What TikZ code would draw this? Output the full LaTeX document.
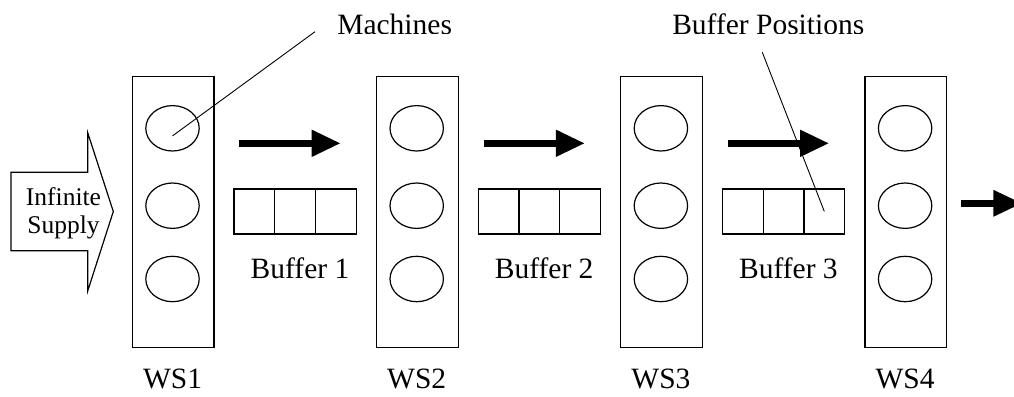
\documentclass[tikz,border=0pt]{standalone}
\usepackage{fontspec}
\setmainfont{Liberation Serif}
\usetikzlibrary{shapes.geometric}
\begin{document}
\begin{tikzpicture}[x=1pt,y=-1pt,
  line width=1.2pt,
  station/.style={draw,rectangle,minimum width=81.6pt,minimum height=270.7pt,inner sep=0pt,anchor=north west},
  machine/.style={draw,ellipse,minimum width=53.4pt,minimum height=45.4pt,inner sep=0pt},
  cell/.style={draw,rectangle,minimum width=40.8pt,minimum height=45pt,inner sep=0pt,anchor=north west},
  lbl/.style={inner sep=0pt,anchor=base,font=\fontsize{29.5}{32}\selectfont},
  flowhead/.style={fill=black,draw=none},
  flowline/.style={line width=6.5pt}]
\useasboundingbox (0,0) rectangle (1014,396);

% Infinite supply arrow
\draw (11,172.3) -- (87.7,172.3) -- (87.7,132.7) -- (113.3,211.5) -- (87.7,291) -- (87.7,250.7) -- (11,250.7) -- cycle;
\node[inner sep=0pt,align=center,anchor=base,font=\fontsize{25.5}{28}\selectfont] (supply) at (63.5,233) {Infinite\\Supply};

% Work stations with three machines each
\foreach \i in {1,...,4}{
  \pgfmathsetmacro{\sx}{131.7+244.2*(\i-1)}
  \node[station] (ws\i) at (\sx,76) {};
  \node[machine] (m\i a) at (\sx+40.8,128.3) {};
  \node[machine] (m\i b) at (\sx+40.8,205.7) {};
  \node[machine] (m\i c) at (\sx+40.8,279) {};
  \node[lbl] (wsl\i) at (\sx+40.8,388) {WS\i};
}

% Buffers between the stations, with flow arrows above
\foreach \i in {1,...,3}{
  \pgfmathsetmacro{\bx}{233.3+244.2*(\i-1)}
  \node[cell] (b\i a) at (\bx,188.3) {};
  \node[cell] (b\i b) at (\bx+40.8,188.3) {};
  \node[cell] (b\i c) at (\bx+81.6,188.3) {};
  \node[lbl] (bl\i) at (\bx+66.7,278) {Buffer \i};
  \draw[flowline] (\bx+6,143.3) -- (\bx+80,143.3);
  \fill[flowhead] (\bx+78.4,129.6) -- (\bx+106.7,143.3) -- (\bx+78.4,157) -- cycle;
}

% Output arrow leaving the last station
\begin{scope}
  \clip (0,0) rectangle (1014,396);
  \draw[flowline] (961,203.3) -- (995,203.3);
  \fill[flowhead] (993.3,189.8) -- (1021.6,203.3) -- (993.3,216.8) -- cycle;
\end{scope}

% Callout labels (cut off at the top edge)
\begin{scope}
  \clip (0,0) rectangle (1014,33.5);
  \node[lbl,anchor=base west] (machines) at (336.7,34.5) {Machines};
  \node[lbl,anchor=base west] (positions) at (671.7,34.5) {Buffer Positions};
\end{scope}
\coordinate (mfoot) at (315,31.7);
\coordinate (pfoot) at (762.3,52.3);
\draw[line width=0.9pt] (mfoot) -- ([yshift=-7.6pt]m1a.center);
\draw[line width=0.9pt] (pfoot) -- (b3c.center);
\end{tikzpicture}
\end{document}
